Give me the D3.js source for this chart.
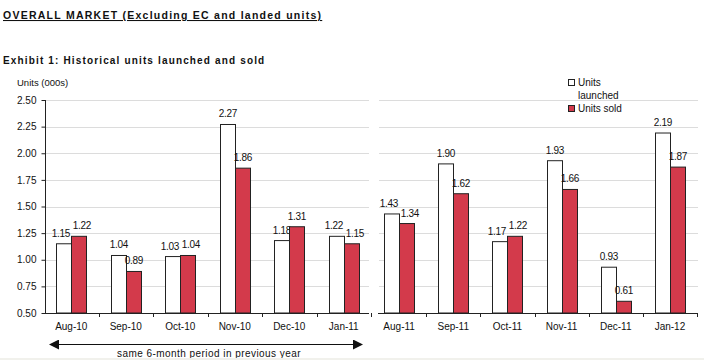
<!DOCTYPE html>
<html><head><meta charset="utf-8">
<script src="https://cdn.jsdelivr.net/npm/d3@7"></script>
<style>
body{margin:0;background:#fff;}
svg{display:block;font-family:"Liberation Sans",Arial,sans-serif;}
</style></head>
<body>
<script>
const monthsPrev = ["Aug-10","Sep-10","Oct-10","Nov-10","Dec-10","Jan-11"];
const monthsCurr = ["Aug-11","Sep-11","Oct-11","Nov-11","Dec-11","Jan-12"];
const launchedPrev = [1.15,1.04,1.03,2.27,1.18,1.22];
const soldPrev     = [1.22,0.89,1.04,1.86,1.31,1.15];
const launchedCurr = [1.43,1.90,1.17,1.93,0.93,2.19];
const soldCurr     = [1.34,1.62,1.22,1.66,0.61,1.87];
const yTicks = [0.50,0.75,1.00,1.25,1.50,1.75,2.00,2.25,2.50];
const seriesNames = ["Units launched","Units sold"];

const W=704,H=360;
const RED="#d33a4b";
const svg=d3.select("body").append("svg").attr("width",W).attr("height",H);

svg.append("text").attr("x",3).attr("y",19).attr("font-size",10.5).attr("font-weight","bold")
  .attr("letter-spacing",1.25).attr("text-decoration","underline").attr("fill","#111")
  .text("OVERALL MARKET (Excluding EC and landed units)");
svg.append("text").attr("x",3).attr("y",64).attr("font-size",10).attr("font-weight","bold")
  .attr("letter-spacing",1.15).attr("fill","#111")
  .text("Exhibit 1: Historical units launched and sold");
svg.append("text").attr("x",17).attr("y",86).attr("font-size",9.5).attr("fill","#111").text("Units (000s)");

const y=d3.scaleLinear().domain([0.5,2.5]).range([313,100]);

const panels=[
  {months:monthsPrev,l:launchedPrev,s:soldPrev,x0:44,x1:371,gx:45,axis:true},
  {months:monthsCurr,l:launchedCurr,s:soldCurr,x0:372,x1:697,gx:378,axis:false}
];
panels.forEach(p=>{
  svg.append("g").selectAll("line").data(yTicks.slice(1)).join("line")
    .attr("x1",p.gx+1).attr("x2",p.axis?369:698).attr("y1",d=>Math.round(y(d))+0.5).attr("y2",d=>Math.round(y(d))+0.5)
    .attr("stroke","#dcdcdc").attr("stroke-width",1);
});

panels.forEach(p=>{
  const x=d3.scaleBand().domain(p.months).range([p.x0,p.x1]);
  const xs=d3.scaleBand().domain(seriesNames).range([0,30]);
  const bw=15;
  const g=svg.append("g");
  p.months.forEach((m,i)=>{
    const cx=x(m)+x.bandwidth()/2;
    const vals=[p.l[i],p.s[i]];
    const close=Math.abs(y(vals[0])-y(vals[1]))<11;
    vals.forEach((v,k)=>{
      const bx=Math.round(cx-15+xs(seriesNames[k]));
      g.append("rect").attr("x",bx+0.5).attr("y",y(v)).attr("width",bw).attr("height",y(0.5)-y(v))
        .attr("fill",k?RED:"#fff").attr("stroke","#222").attr("stroke-width",1);
      const dx=close?(k?3:-3):0;
      g.append("text").attr("x",bx+bw/2+0.5+dx).attr("y",y(v)-7).attr("text-anchor","middle")
        .attr("font-size",10).attr("fill","#111").attr("letter-spacing",-0.3).text(v.toFixed(2));
    });
  });
  const xa=d3.axisBottom(x).tickSize(0).tickPadding(10);
  const ga=svg.append("g").attr("transform",`translate(0,${y(0.5)})`).call(xa);
  ga.select(".domain").attr("stroke","#222").attr("d",`M${p.gx},0.5H${p.axis?369:698}`);
  ga.selectAll("text").attr("font-size",10).attr("fill","#111").attr("font-family","Liberation Sans,Arial,sans-serif");
  const bounds=p.months.map(m=>Math.round(x(m)+x.bandwidth()));
  svg.append("g").selectAll("line").data(bounds).join("line")
    .attr("x1",d=>d+0.5).attr("x2",d=>d+0.5).attr("y1",y(0.5)).attr("y2",y(0.5)+4).attr("stroke","#222");
  if(p.axis){
    const ya=d3.axisLeft(y).tickValues(yTicks).tickFormat(d3.format(".2f")).tickSize(4).tickPadding(5);
    const gy=svg.append("g").attr("transform",`translate(${p.gx+0.5},0)`).call(ya);
    gy.select(".domain").attr("stroke","#222").attr("d",`M0,${y(2.5)}V${y(0.5)}`);
    gy.selectAll("line").attr("stroke","#222");
    gy.selectAll("text").attr("font-size",10).attr("fill","#111").attr("font-family","Liberation Sans,Arial,sans-serif");
  }
});

// legend
const lg=svg.append("g").attr("font-size",10).attr("fill","#111");
lg.append("rect").attr("x",568.5).attr("y",79.5).attr("width",6).attr("height",6).attr("fill","#fff").attr("stroke","#222");
lg.append("text").attr("x",578).attr("y",86).text("Units");
lg.append("text").attr("x",578).attr("y",99).text("launched");
lg.append("rect").attr("x",568.5).attr("y",105.5).attr("width",6).attr("height",6).attr("fill",RED).attr("stroke","#222");
lg.append("text").attr("x",578).attr("y",112).text("Units sold");

// arrow
const ay=344;
svg.append("defs").html('<marker id="ah" viewBox="0 0 10 10" refX="9" refY="5" markerWidth="10" markerHeight="10" markerUnits="userSpaceOnUse" orient="auto-start-reverse"><path d="M0,0L10,5L0,10z" fill="#111"/></marker>');
svg.append("line").attr("x1",50).attr("x2",362).attr("y1",ay+0.5).attr("y2",ay+0.5)
  .attr("stroke","#111").attr("stroke-width",1.2).attr("marker-start","url(#ah)").attr("marker-end","url(#ah)");
svg.append("text").attr("x",209).attr("y",357).attr("text-anchor","middle").attr("font-size",10).attr("letter-spacing",0.45).attr("fill","#111")
  .text("same 6-month period in previous year");
svg.append("rect").attr("x",0).attr("y",358).attr("width",W).attr("height",2).attr("fill","#f1f1ec");
</script>
</body></html>
